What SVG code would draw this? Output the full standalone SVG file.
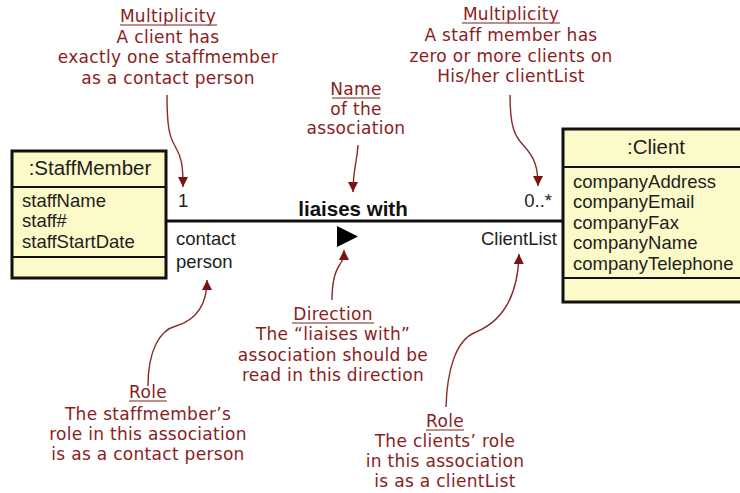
<svg xmlns="http://www.w3.org/2000/svg" width="740" height="493" viewBox="0 0 740 493">
  <defs>
    <style>
      .box { fill: #fbfac8; stroke: #111; stroke-width: 3; }
      .div { stroke: #111; stroke-width: 2; }
      .uml { font-family: "Liberation Sans", Arial, sans-serif; font-size: 18.5px; fill: #1e1e1e; }
      .title { font-size: 20.5px; text-anchor: middle; }
      .name { font-size: 20.5px; font-weight: bold; text-anchor: middle; fill: #111; }
      .assoc { stroke: #111; stroke-width: 3; fill: none; }
      .note { font-family: "Comic Sans MS", "DejaVu Sans", sans-serif; font-size: 17px; letter-spacing: 0.3px; fill: #8a1d1d; text-anchor: middle; }
      .uline { stroke: #a86a6a; stroke-width: 1.4; }
      .lead { fill: none; stroke: #8a2a2a; stroke-width: 1.4; }
    </style>
    <marker id="tip" viewBox="0 0 10 10" refX="10" refY="5" markerUnits="userSpaceOnUse" markerWidth="10" markerHeight="10" orient="auto">
      <path d="M0,0 L10,5 L0,10 z" fill="#7a1212"/>
    </marker>
  </defs>

  <!-- association line between the two classes -->
  <g id="connectors">
    <line class="assoc" x1="166" y1="221" x2="563" y2="221"/>
    <polygon points="337,226 358,236.5 337,247" fill="#000"/>
    <text class="uml name" x="353" y="216">liaises with</text>
    <text class="uml" x="178" y="207">1</text>
    <text class="uml" x="176" y="245">contact</text>
    <text class="uml" x="176" y="268">person</text>
    <text class="uml" x="552" y="207" text-anchor="end">0..*</text>
    <text class="uml" x="557" y="245" text-anchor="end">ClientList</text>
  </g>

  <!-- StaffMember class -->
  <g id="staffmember">
    <rect class="box" x="12" y="151" width="154" height="127"/>
    <line class="div" x1="12" y1="187" x2="166" y2="187"/>
    <line class="div" x1="12" y1="257" x2="166" y2="257"/>
    <text class="uml title" x="90" y="175">:StaffMember</text>
    <text class="uml" x="22" y="207">staffName</text>
    <text class="uml" x="22" y="227">staff#</text>
    <text class="uml" x="22" y="248">staffStartDate</text>
  </g>

  <!-- Client class -->
  <g id="client">
    <rect class="box" x="563" y="129" width="180" height="173"/>
    <line class="div" x1="563" y1="167" x2="743" y2="167"/>
    <line class="div" x1="563" y1="278" x2="743" y2="278"/>
    <text class="uml title" x="656" y="154">:Client</text>
    <text class="uml" x="573" y="188">companyAddress</text>
    <text class="uml" x="573" y="208">companyEmail</text>
    <text class="uml" x="573" y="229">companyFax</text>
    <text class="uml" x="573" y="249">companyName</text>
    <text class="uml" x="573" y="270">companyTelephone</text>
  </g>

  <!-- annotation: multiplicity at the staff member end -->
  <g id="note-multiplicity-left">
    <text class="note" x="168" y="22">Multiplicity</text>
    <line class="uline" x1="120" y1="25" x2="217" y2="25"/>
    <text class="note" x="168" y="43">A client has</text>
    <text class="note" x="168" y="63">exactly one staffmember</text>
    <text class="note" x="168" y="84">as a contact person</text>
    <path class="lead" d="M167,95 C167,125 169,136 175,146 C182,158 183,166 183,187" marker-end="url(#tip)"/>
  </g>

  <!-- annotation: multiplicity at the client end -->
  <g id="note-multiplicity-right">
    <text class="note" x="511" y="20">Multiplicity</text>
    <line class="uline" x1="462" y1="23" x2="560" y2="23"/>
    <text class="note" x="511" y="41">A staff member has</text>
    <text class="note" x="511" y="62">zero or more clients on</text>
    <text class="note" x="511" y="82">His/her clientList</text>
    <path class="lead" d="M510,95 C510,125 514,136 524,146 C535,158 538,168 538,186" marker-end="url(#tip)"/>
  </g>

  <!-- annotation: association name -->
  <g id="note-name">
    <text class="note" x="356" y="95">Name</text>
    <line class="uline" x1="332" y1="98" x2="380" y2="98"/>
    <text class="note" x="356" y="115">of the</text>
    <text class="note" x="356" y="134">association</text>
    <path class="lead" d="M358,145 C357,162 353,170 353,192" marker-end="url(#tip)"/>
  </g>

  <!-- annotation: reading direction -->
  <g id="note-direction">
    <text class="note" x="333" y="320">Direction</text>
    <line class="uline" x1="292" y1="323" x2="374" y2="323"/>
    <text class="note" x="333" y="340">The “liaises with”</text>
    <text class="note" x="333" y="361">association should be</text>
    <text class="note" x="333" y="381">read in this direction</text>
    <path class="lead" d="M332,300 C332,282 335,272 339,266 C343,260 344,257 344,250" marker-end="url(#tip)"/>
  </g>

  <!-- annotation: role of the staff member -->
  <g id="note-role-left">
    <text class="note" x="148" y="398">Role</text>
    <line class="uline" x1="129" y1="401" x2="167" y2="401"/>
    <text class="note" x="148" y="420">The staffmember’s</text>
    <text class="note" x="148" y="440">role in this association</text>
    <text class="note" x="148" y="460">is as a contact person</text>
    <path class="lead" d="M148,386 C148,350 160,330 176,326 C196,320 207,305 207,280" marker-end="url(#tip)"/>
  </g>

  <!-- annotation: role of the client -->
  <g id="note-role-right">
    <text class="note" x="445" y="427">Role</text>
    <line class="uline" x1="426" y1="430" x2="464" y2="430"/>
    <text class="note" x="445" y="447">The clients’ role</text>
    <text class="note" x="445" y="467">in this association</text>
    <text class="note" x="445" y="487">is as a clientList</text>
    <path class="lead" d="M446,407 C447,372 455,340 476,332 C500,322 518,300 519,254" marker-end="url(#tip)"/>
  </g>
</svg>
